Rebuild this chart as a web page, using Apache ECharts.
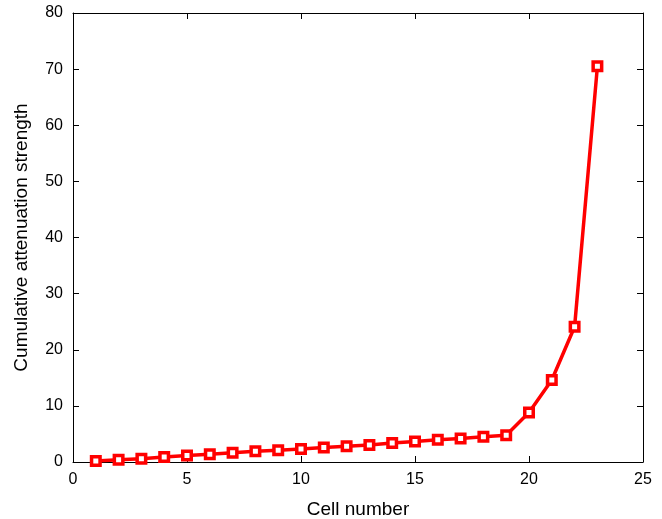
<!DOCTYPE html>
<html><head><meta charset="utf-8">
<script src="https://cdn.jsdelivr.net/npm/echarts@6/dist/echarts.min.js"></script>
<style>html,body{margin:0;padding:0;background:#fff}#c{width:662px;height:519px}</style>
</head><body><div id="c"></div>
<script>
const cells = [1,2,3,4,5,6,7,8,9,10,11,12,13,14,15,16,17,18,19,20,21,22,23];
const strength = [0.2,0.4,0.6,0.9,1.15,1.4,1.65,1.9,2.1,2.3,2.6,2.8,3.05,3.4,3.65,3.95,4.2,4.5,4.77,8.8,14.6,24.1,70.5];
const xTicks = [0,5,10,15,20,25];
const yTicks = [0,10,20,30,40,50,60,70,80];

const font = 'Liberation Sans, Arial, sans-serif';
const chart = echarts.init(document.getElementById('c'), null, {renderer:'canvas'});
const axisCommon = {
  axisLine:{show:true,onZero:false,lineStyle:{color:'#000',width:1}},
  axisTick:{show:true,inside:true,length:6,lineStyle:{color:'#000'}},
  splitLine:{show:false}
};
chart.setOption({
  animation:false,
  grid:{left:73,right:19,top:13,bottom:57,containLabel:false,outerBoundsMode:'none'},
  xAxis:[
    Object.assign({type:'value',min:xTicks[0],max:xTicks[xTicks.length-1],interval:5,position:'bottom',
      name:'Cell number',nameLocation:'middle',nameGap:38,
      nameTextStyle:{fontFamily:font,fontSize:19,color:'#000'},
      axisLabel:{fontFamily:font,fontSize:16,color:'#000',margin:10}},axisCommon),
    Object.assign({type:'value',min:0,max:25,interval:5,position:'top',axisLabel:{show:false}},axisCommon)
  ],
  yAxis:[
    Object.assign({type:'value',min:yTicks[0],max:yTicks[yTicks.length-1],interval:10,position:'left',
      name:'Cumulative attenuation strength',nameLocation:'middle',nameGap:42,
      nameTextStyle:{fontFamily:font,fontSize:19,color:'#000'},
      axisLabel:{fontFamily:font,fontSize:16,color:'#000',margin:10}},axisCommon),
    Object.assign({type:'value',min:0,max:80,interval:10,position:'right',axisLabel:{show:false}},axisCommon)
  ],
  series:[{
    type:'line',
    data:cells.map((c,i)=>[c,strength[i]]),
    symbol:'rect',symbolSize:8.5,
    lineStyle:{color:'#ff0000',width:3.5},
    itemStyle:{color:'#fff',borderColor:'#ff0000',borderWidth:3.5},
    z:3
  }]
});
</script></body></html>
